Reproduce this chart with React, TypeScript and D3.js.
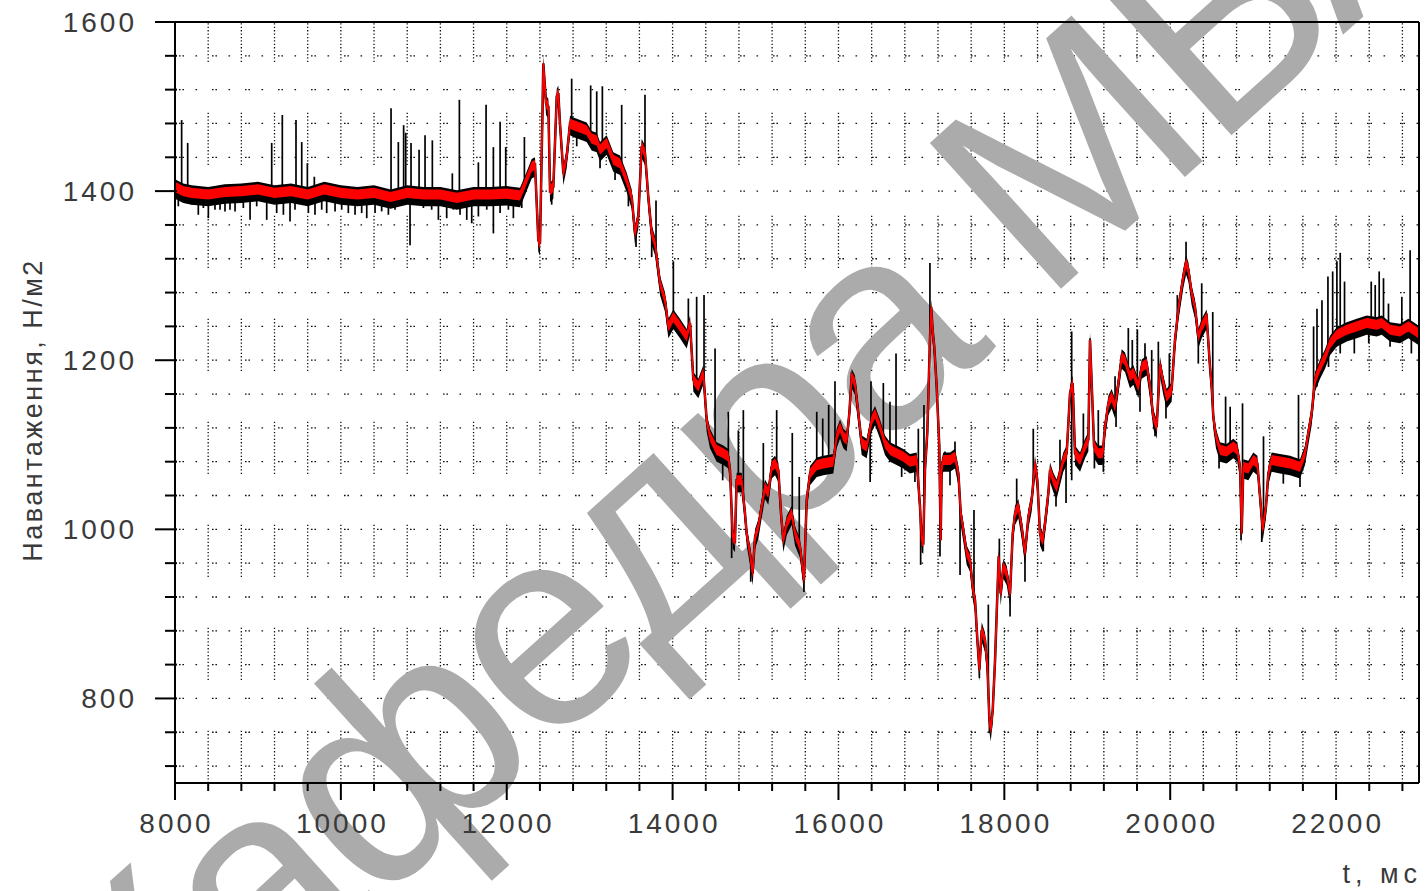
import React from "react";
import * as d3 from "d3";

// ---- data ----
const filtered: [number, number][] = [
  [8000,1405],[8100,1400],[8200,1398],[8400,1396],[8600,1399],[8800,1400],[9000,1402],[9200,1398],[9400,1400],[9600,1396],[9800,1402],[10000,1398],[10200,1396],[10400,1398],[10600,1393],[10800,1398],[11000,1396],[11200,1396],[11400,1392],[11600,1396],[11800,1396],[12000,1397],[12160,1395],[12220,1409],[12301,1429],[12341,1431],[12381,1342],[12401,1338],[12434,1508],[12441,1551],[12474,1504],[12502,1500],[12522,1401],[12562,1405],[12603,1512],[12622,1516],[12642,1480],[12683,1421],[12723,1441],[12763,1480],[12803,1478],[12884,1475],[12964,1472],[13024,1462],[13085,1460],[13125,1449],[13205,1457],[13285,1437],[13366,1433],[13446,1413],[13507,1393],[13547,1350],[13587,1370],[13627,1453],[13667,1445],[13707,1393],[13748,1350],[13788,1338],[13848,1291],[13909,1271],[13949,1240],[14009,1251],[14089,1240],[14170,1228],[14210,1244],[14250,1177],[14310,1169],[14370,1185],[14411,1129],[14451,1110],[14531,1094],[14612,1090],[14672,1086],[14692,1070],[14725,991],[14752,987],[14772,1058],[14833,1058],[14873,1019],[14893,995],[14933,972],[14965,948],[14994,991],[15034,1003],[15074,1027],[15114,1050],[15154,1043],[15195,1074],[15235,1078],[15275,1070],[15307,1019],[15335,987],[15376,1007],[15436,1019],[15476,995],[15536,980],[15584,940],[15617,1035],[15657,1066],[15738,1076],[15818,1078],[15938,1080],[15978,1110],[16019,1121],[16059,1110],[16099,1106],[16131,1137],[16159,1181],[16199,1173],[16240,1137],[16280,1102],[16340,1098],[16400,1129],[16441,1137],[16501,1121],[16561,1102],[16621,1094],[16701,1090],[16782,1086],[16862,1080],[16943,1082],[16983,1027],[17003,987],[17023,985],[17043,1070],[17071,1114],[17103,1224],[17118,1263],[17136,1235],[17155,1216],[17184,1169],[17216,1098],[17232,987],[17245,1074],[17264,1082],[17345,1082],[17405,1086],[17446,1066],[17474,1019],[17506,999],[17546,972],[17586,964],[17618,932],[17647,916],[17675,869],[17699,834],[17727,881],[17767,869],[17796,838],[17820,775],[17836,763],[17860,786],[17888,845],[17908,901],[17932,968],[17956,924],[17988,956],[18029,948],[18069,924],[18101,995],[18129,1019],[18169,1027],[18209,1003],[18249,972],[18290,1015],[18330,1035],[18370,1078],[18398,1058],[18430,995],[18462,987],[18490,1007],[18531,1043],[18551,1070],[18591,1058],[18631,1050],[18671,1066],[18711,1082],[18752,1090],[18792,1161],[18824,1173],[18852,1090],[18913,1082],[18973,1098],[19013,1106],[19033,1224],[19058,1161],[19082,1098],[19133,1090],[19186,1090],[19214,1121],[19254,1149],[19294,1157],[19335,1145],[19375,1173],[19415,1204],[19455,1200],[19515,1181],[19556,1185],[19616,1169],[19656,1192],[19716,1196],[19756,1169],[19796,1133],[19837,1121],[19877,1195],[19917,1173],[19957,1157],[20017,1165],[20058,1224],[20098,1260],[20158,1299],[20191,1315],[20219,1307],[20259,1279],[20299,1263],[20339,1228],[20380,1240],[20440,1251],[20480,1192],[20500,1169],[20520,1133],[20552,1110],[20601,1094],[20681,1092],[20761,1098],[20809,1094],[20842,1074],[20862,995],[20882,1074],[20942,1072],[21002,1082],[21051,1078],[21083,1039],[21115,1000],[21155,1027],[21183,1066],[21223,1082],[21324,1080],[21445,1078],[21565,1074],[21626,1090],[21666,1114],[21706,1137],[21746,1177],[21807,1192],[21867,1204],[21927,1220],[22008,1230],[22129,1236],[22249,1240],[22370,1244],[22490,1242],[22551,1244],[22651,1236],[22772,1234],[22872,1240],[22993,1232]
];

const rawPeaksUp: [number, number][] = [
  [8080,1484],[8153,1457],[9166,1457],[9294,1490],[9459,1484],[9528,1458],[9596,1433],[9680,1417],[10605,1498],[10693,1458],[10757,1478],[10782,1469],[10846,1457],[10943,1449],[11015,1466],[11103,1460],[11344,1421],[11429,1508],[11658,1434],[11751,1502],[11839,1452],[11920,1482],[11988,1452],[12213,1464],
  [12783,1533],[13012,1525],[13085,1518],[13153,1524],[13386,1502],[13667,1514],[13800,1389],[14009,1317],[14190,1273],[14290,1275],[14379,1277],[14512,1214],[14672,1139],[14793,1117],[14853,1141],[15094,1102],[15255,1141],[15443,1114],[15527,1062],[15738,1139],[15810,1131],[15882,1147],[15958,1175],[16179,1173],[16392,1175],[16541,1173],[16621,1151],[16694,1208],[16963,1119],[17031,1147],[17103,1315],[17284,1092],[17405,1104],[17634,1023],[17807,911],[17940,989],[18149,1060],[18349,1119],[18671,1106],[18812,1234],[18953,1137],[19033,1226],[19133,1141],[19335,1181],[19495,1238],[19543,1224],[19604,1236],[19696,1220],[19777,1212],[19857,1222],[19990,1208],[20086,1277],[20191,1340],[20380,1291],[20513,1257],[20668,1157],[20723,1145],[20872,1149],[21125,1110],[21547,1159],[21729,1240],[21770,1261],[21830,1271],[21902,1299],[21959,1305],[22010,1317],[22050,1327],[22102,1293],[22424,1293],[22472,1289],[22520,1305],[22572,1297],[22632,1267],[22793,1275],[22893,1330]
];

const rawPeaksDown: [number, number][] = [
  [8040,1382],[8201,1384],[8281,1372],[8342,1380],[8402,1368],[8482,1378],[8543,1378],[8603,1376],[8663,1378],[8724,1376],[8824,1380],[8905,1366],[8985,1382],[9106,1366],[9226,1374],[9307,1372],[9387,1364],[9447,1378],[9608,1374],[9688,1372],[9769,1378],[9829,1374],[9930,1376],[10010,1378],[10090,1374],[10171,1372],[10251,1374],[10312,1368],[10412,1374],[10492,1376],[10573,1372],[10653,1378],[10834,1336],[10915,1384],[10995,1380],[11095,1378],[11176,1366],[11276,1368],[11357,1378],[11437,1372],[11518,1366],[11578,1362],[11658,1370],[11759,1378],[11839,1350],[11920,1374],[12020,1378],[12080,1368],[12181,1380],
  [12542,1384],[12844,1453],[13125,1427],[13306,1413],[13467,1382],[13559,1334],[13748,1322],[14604,1058],[14712,966],[14942,938],[15584,926],[16382,1056],[16762,1062],[16922,1056],[16991,958],[17224,968],[17345,1052],[17466,946],[17699,824],[17820,759],[18069,897],[18249,938],[18470,974],[18623,1027],[18744,1031],[18812,1058],[19086,1072],[19194,1068],[19347,1121],[19636,1139],[19817,1110],[19949,1131],[20339,1196],[20589,1072],[20854,987],[21104,985],[21364,1054],[21565,1050],[21770,1169],[21909,1192],[22050,1208],[22220,1208],[22394,1220],[22651,1216],[22908,1208]
];

const xMajorTicks = [8000, 10000, 12000, 14000, 16000, 18000, 20000, 22000];
const yMajorTicks = [800, 1000, 1200, 1400, 1600];
const xMinorStep = 400;
const yMinorStep = 40;
const yTitle = "Навантаження, Н/м2";
const xTitle = "t, мс";
const watermark = "Кафедра МБА";

// ---- layout ----
const W = 1427, H = 891;
const L = 175, R = 1419, T = 22, B = 783;

export default function App() {
  const x = d3.scaleLinear().domain([8000, 23000]).range([L, R]);
  const y = d3.scaleLinear().domain([700, 1600]).range([B, T]);

  const xMinor = d3.range(8000, 23000, xMinorStep);
  const yMinor = d3.range(720, 1600.1, yMinorStep);

  const bis = d3.bisector((d: [number, number]) => d[0]).left;
  const baseAt = (t: number) => {
    const i = Math.max(1, Math.min(filtered.length - 1, bis(filtered, t)));
    const a = filtered[i - 1], b = filtered[i];
    const k = (t - a[0]) / (b[0] - a[0]);
    return a[1] + (b[1] - a[1]) * k;
  };

  const line = d3.line<[number, number]>().x(d => x(d[0])).y(d => y(d[1]));
  const blackBand = d3.area<[number, number]>().x(d => x(d[0])).y0(d => y(d[1] - 14)).y1(d => y(d[1] + 9));
  const redBand = d3.area<[number, number]>().x(d => x(d[0])).y0(d => y(d[1] - 6)).y1(d => y(d[1] + 6));

  const vDash = Array(15).fill("1.3 2.1").join(" ") + " 1.3 50.7";
  const hDash = "1.6 1.8 1.6 11.5 1.6 14.9";
  const fmt = d3.format("d");
  const font = "'Liberation Sans', Arial, sans-serif";

  return (
    <svg width={W} height={H} style={{ position: "absolute", left: 0, top: 0, background: "#fff" }} fontFamily={font}>
      <rect x={0} y={0} width={W} height={H} fill="#fff" />
      {/* grid */}
      <g>
        {yMinor.map(v => (
          <line key={"h" + v} x1={L} x2={R} y1={y(v)} y2={y(v)} stroke="#111" strokeWidth={1.3} strokeDasharray={hDash} strokeDashoffset={-4} />
        ))}
        {xMinor.filter(t => t > 8000).map(t => (
          <line key={"v" + t} x1={x(t)} x2={x(t)} y1={B} y2={T} stroke="#111" strokeWidth={1.3} strokeDasharray={vDash} />
        ))}
      </g>
      {/* watermark */}
      <text transform="translate(745,440) rotate(-42)" textAnchor="middle" dominantBaseline="central"
        fontSize={285} letterSpacing={-8} fill="#ababab" fontFamily={font}>{watermark}</text>
      {/* data */}
      <g>
        <path d={blackBand(filtered) || ""} fill="#000" />
        <path d={line(filtered) || ""} fill="none" stroke="#000" strokeWidth={2.5} />
        {rawPeaksUp.map(([t, v]) => (
          <line key={"u" + t} x1={x(t)} x2={x(t)} y1={y(baseAt(t))} y2={y(v)} stroke="#000" strokeWidth={1.7} />
        ))}
        {rawPeaksDown.map(([t, v]) => (
          <line key={"d" + t} x1={x(t)} x2={x(t)} y1={y(baseAt(t))} y2={y(v)} stroke="#000" strokeWidth={1.7} />
        ))}
        <path d={redBand(filtered) || ""} fill="#f00" />
        <path d={line(filtered) || ""} fill="none" stroke="#f00" strokeWidth={1.8} />
      </g>
      {/* frame */}
      <line x1={155} x2={R} y1={T} y2={T} stroke="#000" strokeWidth={2} />
      <line x1={R} x2={R} y1={T} y2={B} stroke="#000" strokeWidth={2} />
      <line x1={L} x2={R} y1={B} y2={B} stroke="#000" strokeWidth={2} />
      <line x1={L} x2={L} y1={T} y2={B} stroke="#000" strokeWidth={2} />
      {/* y ticks */}
      {yMinor.map(v => (
        <line key={"yt" + v} x1={yMajorTicks.includes(v) ? 155 : 165} x2={L + 2} y1={y(v)} y2={y(v)} stroke="#000" strokeWidth={2} />
      ))}
      {yMajorTicks.map(v => (
        <text key={"yl" + v} x={137} y={y(v)} textAnchor="end" dominantBaseline="central" fontSize={28} letterSpacing={3} fill="#3a3a3a">{fmt(v)}</text>
      ))}
      {/* x ticks */}
      {xMinor.map(t => (
        <line key={"xt" + t} x1={x(t)} x2={x(t)} y1={B} y2={xMajorTicks.includes(t) ? 800 : 791} stroke="#000" strokeWidth={2} />
      ))}
      {xMajorTicks.map(t => (
        <text key={"xl" + t} x={x(t) + 1.5} y={823} textAnchor="middle" dominantBaseline="central" fontSize={28} letterSpacing={3} fill="#3a3a3a">{fmt(t)}</text>
      ))}
      {/* titles */}
      <text transform="translate(33,410) rotate(-90)" textAnchor="middle" dominantBaseline="central" fontSize={27} letterSpacing={2.5} fill="#3a3a3a">{yTitle}</text>
      <text x={1422} y={874} textAnchor="end" dominantBaseline="central" fontSize={27} letterSpacing={5} fill="#3a3a3a">{xTitle}</text>
    </svg>
  );
}
